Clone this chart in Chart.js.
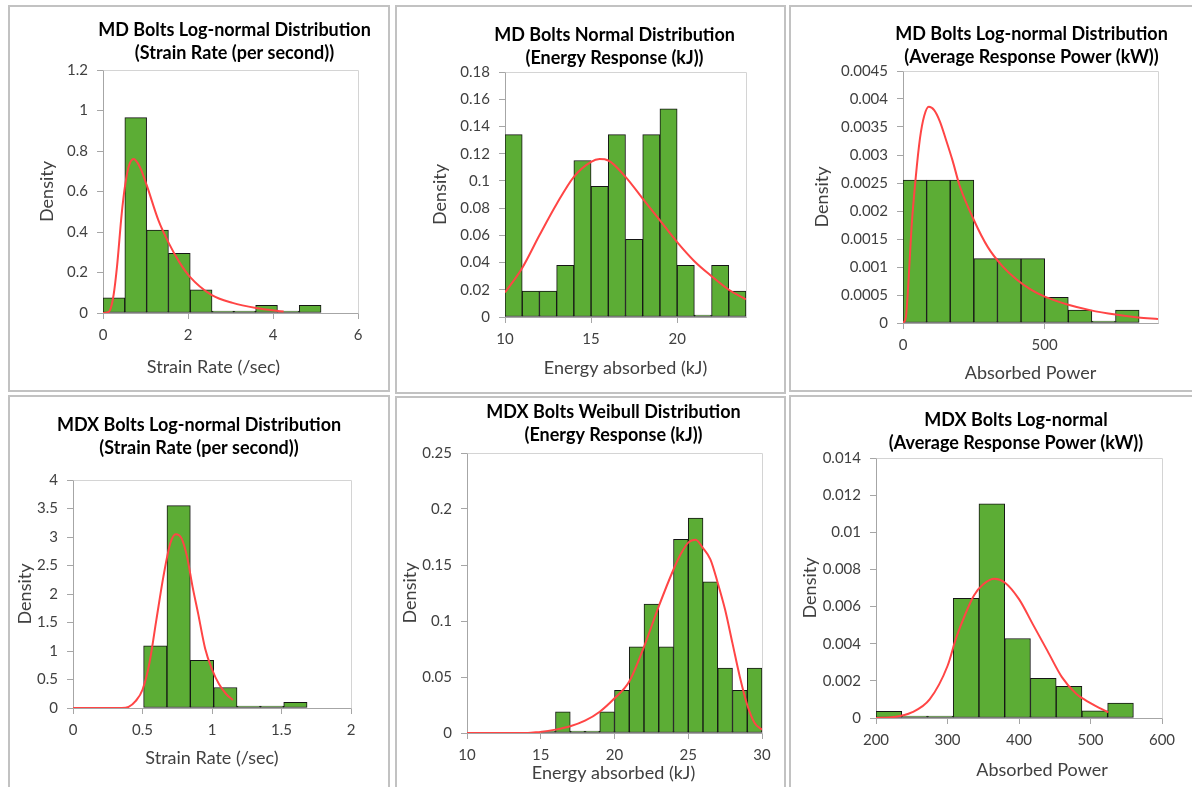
<!DOCTYPE html>
<html>
<head>
<meta charset="utf-8">
<script src="https://cdn.jsdelivr.net/npm/chart.js@4.4.1/dist/chart.umd.min.js"></script>
<style>
  body { margin: 0; background: #fff; width: 1192px; height: 787px; overflow: hidden; position: relative; }
  .panel { position: absolute; border: 2px solid #c2c2c2; box-sizing: border-box; }
  .panel canvas { position: absolute; left: -2px; top: -2px; }
</style>
</head>
<body>
<div class="panel" style="left:8px;top:5px;width:382px;height:387px"><canvas id="c1" width="382" height="387"></canvas></div>
<div class="panel" style="left:395px;top:5px;width:391px;height:389px"><canvas id="c2" width="391" height="389"></canvas></div>
<div class="panel" style="left:789px;top:5px;width:405px;height:387px"><canvas id="c3" width="405" height="387"></canvas></div>
<div class="panel" style="left:8px;top:395px;width:382px;height:395px"><canvas id="c4" width="382" height="395"></canvas></div>
<div class="panel" style="left:395px;top:396px;width:391px;height:394px"><canvas id="c5" width="391" height="394"></canvas></div>
<div class="panel" style="left:789px;top:395px;width:405px;height:395px"><canvas id="c6" width="405" height="395"></canvas></div>
<script>
// --- data (bin centres, densities, fitted curve samples) ---

// MD strain rate, log-normal
const mdStrainBins = [0.257, 0.770, 1.283, 1.796, 2.309, 2.822, 3.335, 3.848, 4.361, 4.874];
const mdStrainDensity = [0.075, 0.965, 0.41, 0.295, 0.115, 0, 0, 0.038, 0, 0.038];
const mdStrainFitX = [0, 0.1, 0.17, 0.25, 0.33, 0.44, 0.52, 0.6, 0.72, 0.87, 1.03, 1.3, 1.56, 1.8, 2.04, 2.55, 3.05, 3.6, 4.25];
const mdStrainFitY = [0, 0.003, 0.016, 0.09, 0.23, 0.49, 0.63, 0.72, 0.76, 0.72, 0.63, 0.46, 0.34, 0.25, 0.18, 0.09, 0.05, 0.025, 0.007];
const mdStrainTicks = [0, 2, 4, 6];

// MD energy, normal
const mdEnergyBins = [10.5, 11.5, 12.5, 13.5, 14.5, 15.5, 16.5, 17.5, 18.5, 19.5, 20.5, 21.5, 22.5, 23.5];
const mdEnergyDensity = [0.134, 0.019, 0.019, 0.038, 0.115, 0.096, 0.134, 0.057, 0.134, 0.153, 0.038, 0, 0.038, 0.019];
const mdEnergyFitX = [10, 11, 12, 13, 14, 15, 15.5, 16, 17, 18, 19, 20, 21, 22, 23, 24];
const mdEnergyFitY = [0.018, 0.036, 0.06, 0.083, 0.103, 0.114, 0.116, 0.115, 0.103, 0.087, 0.071, 0.055, 0.041, 0.03, 0.02, 0.013];
const mdEnergyTicks = [10, 15, 20];

// MD power, log-normal
const mdPowerBins = [41.7, 125, 208.3, 291.7, 375, 458.3, 541.7, 625, 708.3, 791.7];
const mdPowerDensity = [0.00255, 0.00255, 0.00255, 0.00115, 0.00115, 0.00115, 0.00046, 0.00023, 0, 0.00023];
const mdPowerFitX = [0, 10, 20, 30, 45, 60, 75, 91, 110, 130, 150, 175, 200, 250, 300, 350, 400, 450, 500, 580, 660, 750, 830, 900];
const mdPowerFitY = [0, 0.0001, 0.0008, 0.0017, 0.0026, 0.0033, 0.0037, 0.00386, 0.0038, 0.0036, 0.0033, 0.0029, 0.00245, 0.00184, 0.00135, 0.00102, 0.00078, 0.0006, 0.00047, 0.00033, 0.00023, 0.00015, 0.0001, 0.00007];
const mdPowerTicks = [0, 500];

// MDX strain rate, log-normal
const mdxStrainBins = [0.592, 0.760, 0.928, 1.096, 1.264, 1.432, 1.600];
const mdxStrainDensity = [1.09, 3.55, 0.835, 0.36, 0, 0, 0.1];
const mdxStrainFitX = [0, 0.35, 0.4, 0.45, 0.5, 0.55, 0.6, 0.65, 0.7, 0.74, 0.78, 0.82, 0.86, 0.9, 0.95, 1.0, 1.05, 1.1, 1.15];
const mdxStrainFitY = [0, 0, 0.02, 0.12, 0.32, 0.79, 1.55, 2.3, 2.89, 3.05, 2.98, 2.66, 2.13, 1.66, 1.05, 0.68, 0.42, 0.25, 0.14];
const mdxStrainTicks = [0, 0.5, 1, 1.5, 2];

// MDX energy, Weibull
const mdxEnergyBins = [15.5, 16.5, 17.5, 18.5, 19.5, 20.5, 21.5, 22.5, 23.5, 24.5, 25.5, 26.5, 27.5, 28.5, 29.5];
const mdxEnergyDensity = [0, 0.019, 0, 0, 0.019, 0.038, 0.077, 0.115, 0.077, 0.173, 0.192, 0.135, 0.058, 0.038, 0.058];
const mdxEnergyFitX = [10, 14, 14.5, 15, 16, 17, 18, 19, 20, 21, 22, 23, 24, 24.5, 25, 25.5, 26, 26.5, 27, 27.5, 28, 28.5, 29, 29.5, 30];
const mdxEnergyFitY = [0, 0, 0.0005, 0.001, 0.003, 0.006, 0.011, 0.019, 0.031, 0.046, 0.077, 0.113, 0.146, 0.16, 0.17, 0.1726, 0.165, 0.155, 0.134, 0.11, 0.08, 0.05, 0.025, 0.009, 0.003];
const mdxEnergyTicks = [10, 15, 20, 25, 30];

// MDX power, log-normal
const mdxPowerBins = [218, 254, 290, 326, 362, 398, 434, 470, 506, 542];
const mdxPowerDensity = [0.00036, 0, 0, 0.00645, 0.01153, 0.00428, 0.00213, 0.0017, 0.00038, 0.00081];
const mdxPowerFitX = [200, 225, 250, 275, 300, 312, 325, 337, 350, 366, 380, 400, 420, 440, 460, 480, 500, 525];
const mdxPowerFitY = [0, 0.00005, 0.0003, 0.001, 0.0028, 0.0043, 0.0056, 0.0066, 0.0072, 0.0075, 0.0073, 0.0064, 0.005, 0.0036, 0.0022, 0.0013, 0.0008, 0.0003];
const mdxPowerTicks = [200, 300, 400, 500, 600];

// --- styling ---
const GREEN = '#5cad35';
const RED = '#ff4545';
const AXIS = '#a6a6a6';
const FRAME = '#d4d4d4';
const TEXT = '#404040';
Chart.defaults.font.family = 'Lato';

// plot frame (top/right edges) plus titles and x axis label
const panelText = {
  id: 'panelText',
  beforeDatasetsDraw(chart) {
    const { ctx, chartArea: a } = chart;
    ctx.save();
    ctx.strokeStyle = FRAME;
    ctx.lineWidth = 1;
    ctx.beginPath();
    ctx.moveTo(Math.round(a.left) + 0.5, Math.round(a.top) + 0.5);
    ctx.lineTo(Math.round(a.right) + 0.5, Math.round(a.top) + 0.5);
    ctx.lineTo(Math.round(a.right) + 0.5, Math.round(a.bottom) + 0.5);
    ctx.stroke();
    ctx.restore();
  },
  afterDraw(chart, args, o) {
    const { ctx, chartArea: a } = chart;
    const cx = (a.left + a.right) / 2;
    ctx.save();
    ctx.textAlign = 'center';
    ctx.textBaseline = 'middle';
    ctx.fillStyle = '#000';
    ctx.font = 'bold 18px Lato';
    o.title.forEach((line, i) => ctx.fillText(line, cx + o.titleDx, o.titleY + i * 23));
    ctx.fillStyle = TEXT;
    ctx.font = '18px Lato';
    ctx.fillText(o.xTitle, cx + o.xTitleDx, o.xTitleY);
    ctx.restore();
  }
};

function histChart(id, p) {
  const tickFont = { family: 'Lato', size: 15 };
  return new Chart(document.getElementById(id), {
    type: 'bar',
    data: {
      datasets: [
        {
          type: 'line',
          data: p.fitX.map((x, i) => ({ x: x, y: p.fitY[i] })),
          borderColor: RED,
          borderWidth: 2,
          pointRadius: 0,
          cubicInterpolationMode: 'monotone',
          order: 1
        },
        {
          type: 'bar',
          data: p.bins.map((x, i) => ({ x: x, y: p.density[i] })),
          backgroundColor: GREEN,
          borderColor: '#151515',
          borderWidth: 1,
          borderSkipped: false,
          minBarLength: 2,
          barPercentage: 1,
          categoryPercentage: 1,
          order: 2
        }
      ]
    },
    options: {
      responsive: false,
      animation: false,
      layout: { padding: { left: 0, right: p.padRight, top: p.plotTop, bottom: 0 } },
      plugins: {
        legend: { display: false },
        tooltip: { enabled: false },
        panelText: {
          title: p.title, titleY: p.titleY, titleDx: p.titleDx,
          xTitle: p.xTitle, xTitleY: p.xTitleY, xTitleDx: p.xTitleDx
        }
      },
      scales: {
        x: {
          type: 'linear',
          min: p.xMin, max: p.xMax,
          offset: false,
          afterFit(s) { s.height = p.xAxisHeight; },
          afterBuildTicks(s) { s.ticks = p.xTicks.map(v => ({ value: v })); },
          grid: { display: true, offset: false, drawOnChartArea: false, drawTicks: true, tickLength: 6, color: AXIS },
          border: { display: true, color: AXIS },
          ticks: {
            padding: 7, autoSkip: false, maxRotation: 0,
            font: tickFont, color: TEXT,
            callback: v => String(+v.toFixed(6))
          }
        },
        y: {
          min: 0, max: p.yMax,
          afterFit(s) { s.width = p.plotLeft; },
          grid: { display: true, drawOnChartArea: false, drawTicks: true, tickLength: 6, color: AXIS },
          border: { display: true, color: AXIS },
          ticks: {
            stepSize: p.yStep, padding: 9, font: tickFont, color: TEXT,
            callback: v => String(+v.toFixed(6))
          },
          title: {
            display: true, text: 'Density', color: TEXT,
            font: { family: 'Lato', size: 18, lineHeight: 1.2 },
            padding: { top: p.yTitlePad, bottom: 0 }
          }
        }
      }
    },
    plugins: [panelText]
  });
}

histChart('c1', {
  bins: mdStrainBins, density: mdStrainDensity, fitX: mdStrainFitX, fitY: mdStrainFitY, xTicks: mdStrainTicks,
  xMin: 0, xMax: 6, yMax: 1.2, yStep: 0.2,
  plotLeft: 95, padRight: 32, plotTop: 65, xAxisHeight: 79, yTitlePad: 28,
  title: ['MD Bolts Log-normal Distribution', '(Strain Rate (per second))'], titleY: 25, titleDx: 4,
  xTitle: 'Strain Rate (/sec)', xTitleY: 362, xTitleDx: -17
});
histChart('c2', {
  bins: mdEnergyBins, density: mdEnergyDensity, fitX: mdEnergyFitX, fitY: mdEnergyFitY, xTicks: mdEnergyTicks,
  xMin: 10, xMax: 24, yMax: 0.18, yStep: 0.02,
  plotLeft: 110, padRight: 40, plotTop: 67, xAxisHeight: 77, yTitlePad: 34,
  title: ['MD Bolts Normal Distribution', '(Energy Response (kJ))'], titleY: 30, titleDx: -11,
  xTitle: 'Energy absorbed (kJ)', xTitleY: 363, xTitleDx: 0
});
histChart('c3', {
  bins: mdPowerBins, density: mdPowerDensity, fitX: mdPowerFitX, fitY: mdPowerFitY, xTicks: mdPowerTicks,
  xMin: 0, xMax: 900, yMax: 0.0045, yStep: 0.0005,
  plotLeft: 114, padRight: 36, plotTop: 66, xAxisHeight: 69, yTitlePad: 22,
  title: ['MD Bolts Log-normal Distribution', '(Average Response Power (kW))'], titleY: 29, titleDx: 1,
  xTitle: 'Absorbed Power', xTitleY: 368, xTitleDx: 0
});
histChart('c4', {
  bins: mdxStrainBins, density: mdxStrainDensity, fitX: mdxStrainFitX, fitY: mdxStrainFitY, xTicks: mdxStrainTicks,
  xMin: 0, xMax: 2, yMax: 4, yStep: 0.5,
  plotLeft: 65, padRight: 39, plotTop: 85, xAxisHeight: 82, yTitlePad: 6,
  title: ['MDX Bolts Log-normal Distribution', '(Strain Rate (per second))'], titleY: 30, titleDx: -13,
  xTitle: 'Strain Rate (/sec)', xTitleY: 363, xTitleDx: 0
});
histChart('c5', {
  bins: mdxEnergyBins, density: mdxEnergyDensity, fitX: mdxEnergyFitX, fitY: mdxEnergyFitY, xTicks: mdxEnergyTicks,
  xMin: 10, xMax: 30, yMax: 0.25, yStep: 0.05,
  plotLeft: 72, padRight: 24, plotTop: 57, xAxisHeight: 57, yTitlePad: 4,
  title: ['MDX Bolts Weibull Distribution', '(Energy Response (kJ))'], titleY: 16, titleDx: -1,
  xTitle: 'Energy absorbed (kJ)', xTitleY: 377, xTitleDx: -1
});
histChart('c6', {
  bins: mdxPowerBins, density: mdxPowerDensity, fitX: mdxPowerFitX, fitY: mdxPowerFitY, xTicks: mdxPowerTicks,
  xMin: 200, xMax: 600, yMax: 0.014, yStep: 0.002,
  plotLeft: 87, padRight: 32, plotTop: 63, xAxisHeight: 72, yTitlePad: 10,
  title: ['MDX Bolts Log-normal', '(Average Response Power (kW))'], titleY: 25, titleDx: -3,
  xTitle: 'Absorbed Power', xTitleY: 375, xTitleDx: 23
});
</script>
</body>
</html>
